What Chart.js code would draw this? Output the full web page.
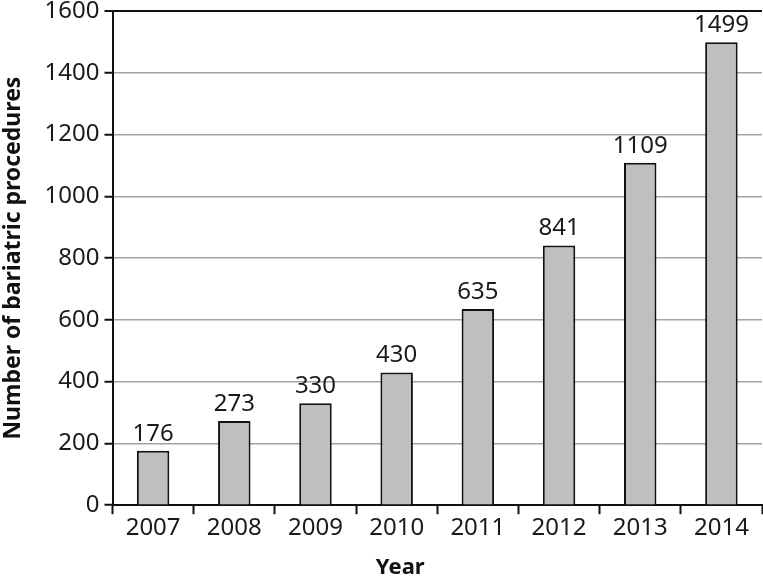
<!DOCTYPE html>
<html>
<head>
<meta charset="utf-8">
<script src="https://cdn.jsdelivr.net/npm/chart.js@4.4.1/dist/chart.umd.min.js"></script>
<style>
html,body{margin:0;padding:0;background:#fff;}
#wrap{width:763px;height:579px;position:relative;}
</style>
</head>
<body>
<div id="wrap"><canvas id="c" width="763" height="579"></canvas></div>
<script>
const years = ['2007','2008','2009','2010','2011','2012','2013','2014'];
const procedures = [176, 273, 330, 430, 635, 841, 1109, 1499];
const yTicks = [0, 200, 400, 600, 800, 1000, 1200, 1400, 1600];
const xTitle = 'Year';
const yTitle = 'Number of bariatric procedures';

const FONT = "'Noto Sans', 'DejaVu Sans', sans-serif";

const valueLabels = {
  id: 'valueLabels',
  afterDatasetsDraw(chart) {
    const ctx = chart.ctx;
    const meta = chart.getDatasetMeta(0);
    ctx.save();
    ctx.font = '24px ' + FONT;
    ctx.fillStyle = '#1a1a1a';
    ctx.textAlign = 'center';
    ctx.textBaseline = 'bottom';
    meta.data.forEach((bar, i) => {
      ctx.fillText(String(procedures[i]), bar.x, bar.y - 5);
    });
    ctx.restore();
  },
  afterDraw(chart) {
    const ctx = chart.ctx;
    const a = chart.chartArea;
    ctx.save();
    ctx.font = 'bold 22px ' + FONT;
    ctx.fillStyle = '#111';
    ctx.textAlign = 'center';
    ctx.textBaseline = 'middle';
    ctx.fillText(xTitle, a.left + a.width * 0.443, chart.height - 11);
    ctx.restore();
  }
};

new Chart(document.getElementById('c'), {
  type: 'bar',
  data: {
    labels: years,
    datasets: [{
      data: procedures,
      backgroundColor: '#bebfc1',
      borderColor: '#111',
      borderWidth: 2,
      barPercentage: 0.4,
      categoryPercentage: 1.0
    }]
  },
  options: {
    responsive: false,
    animation: false,
    devicePixelRatio: 1,
    layout: { padding: { top: 9, right: 1, left: 0, bottom: 36 } },
    plugins: { legend: { display: false }, tooltip: { enabled: false } },
    scales: {
      x: {
        offset: true,
        grid: {
          display: true,
          offset: true,
          drawOnChartArea: false,
          drawTicks: true,
          tickLength: 9,
          tickColor: '#111',
          tickWidth: 2
        },
        border: { display: true, color: '#111', width: 2 },
        ticks: { color: '#1a1a1a', font: { family: FONT, size: 24 }, padding: 0 },
        title: { display: false }
      },
      y: {
        min: 0,
        max: 1600,
        afterBuildTicks(scale) { scale.ticks = yTicks.map(v => ({ value: v })); },
        grid: {
          color: ctx => (ctx.tick && ctx.tick.value === 1600) ? '#111' : '#a3a3a3',
          lineWidth: ctx => (ctx.tick && ctx.tick.value === 1600) ? 2 : 1.5,
          tickColor: '#111',
          tickWidth: 2,
          tickLength: 8
        },
        border: { display: true, color: '#111', width: 2 },
        ticks: { color: '#1a1a1a', font: { family: FONT, size: 24, lineHeight: 0.5 }, padding: 5, callback: v => String(v) },
        title: { display: true, text: yTitle, color: '#111', font: { family: FONT, size: 23, weight: 'bold' }, padding: { top: 0, bottom: 12 } }
      }
    }
  },
  plugins: [valueLabels]
});
</script>
</body>
</html>
